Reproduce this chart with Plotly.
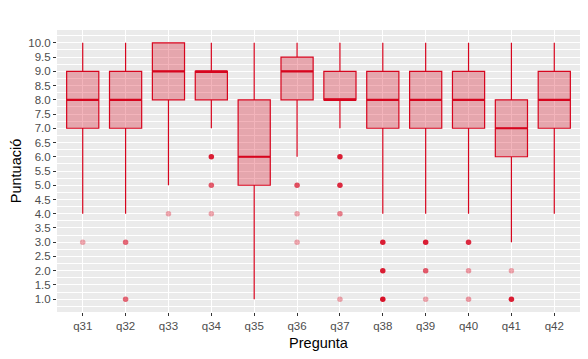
import plotly.graph_objects as go

preguntes = ["q31", "q32", "q33", "q34", "q35", "q36", "q37", "q38", "q39", "q40", "q41", "q42"]
minims = [4, 4, 5, 7, 1, 6, 7, 4, 4, 4, 3, 4]
q1s = [7, 7, 8, 8, 5, 8, 8, 7, 7, 7, 6, 7]
medianes = [8, 8, 9, 9, 6, 9, 8, 8, 8, 8, 7, 8]
q3s = [9, 9, 10, 9, 8, 9.5, 9, 9, 9, 9, 8, 9]
maxims = [10, 10, 10, 10, 10, 10, 10, 10, 10, 10, 10, 10]

# outliers: (question, value, opacity from overplotting)
outlier_preg = ["q31", "q32", "q32", "q33", "q34", "q34", "q34", "q36", "q36", "q36",
                "q37", "q37", "q37", "q37", "q38", "q38", "q38", "q39", "q39", "q39",
                "q40", "q40", "q40", "q41", "q41"]
outlier_val = [3, 3, 1, 4, 6, 5, 4, 5, 4, 3,
               6, 5, 4, 1, 3, 2, 1, 3, 2, 1,
               3, 2, 1, 2, 1]
outlier_alpha = [0.35, 0.6, 0.6, 0.35, 0.9, 0.65, 0.35, 0.7, 0.35, 0.35,
                 0.9, 0.85, 0.5, 0.35, 0.9, 0.9, 0.95, 0.9, 0.65, 0.35,
                 0.85, 0.4, 0.4, 0.35, 0.9]

RED = "rgb(215,5,30)"
FILL = "rgba(215,5,30,0.3)"
BOXW = 0.75

xs = list(range(len(preguntes)))
idx = {p: i for i, p in enumerate(preguntes)}

fig = go.Figure()
fig.add_trace(go.Box(
    x=xs, q1=q1s, median=medianes, q3=q3s,
    lowerfence=minims, upperfence=maxims,
    boxpoints=False, width=BOXW, whiskerwidth=0,
    fillcolor=FILL, line=dict(color=RED, width=1.2),
    showlegend=False, hoverinfo="skip",
))

# thicker median lines
mx, my = [], []
for i, m in zip(xs, medianes):
    mx += [i - BOXW / 2, i + BOXW / 2, None]
    my += [m, m, None]
fig.add_trace(go.Scatter(x=mx, y=my, mode="lines",
                         line=dict(color=RED, width=2.2),
                         showlegend=False, hoverinfo="skip"))

fig.add_trace(go.Scatter(
    x=[idx[p] for p in outlier_preg], y=outlier_val, mode="markers",
    marker=dict(color=RED, size=5.5, opacity=outlier_alpha, line=dict(width=0)),
    showlegend=False, hoverinfo="skip",
))

yt = [1 + 0.5 * k for k in range(19)]
fig.update_layout(
    width=580, height=351,
    margin=dict(l=49, r=8, t=22, b=47),
    paper_bgcolor="white", plot_bgcolor="#EBEBEB",
    font=dict(family="Liberation Sans, Arial, sans-serif"),
    xaxis=dict(
        range=[-0.6, len(preguntes) - 0.4],
        tickvals=xs, ticktext=preguntes,
        showgrid=True, gridcolor="white", gridwidth=1.3,
        zeroline=False, showline=False, automargin=False,
        ticks="outside", ticklen=3, tickcolor="#333333", tickwidth=1,
        tickfont=dict(size=11.5, color="#4D4D4D"),
        title=dict(text="Pregunta", font=dict(size=14.5, color="black"), standoff=7),
    ),
    yaxis=dict(
        range=[0.55, 10.45],
        tickvals=yt, ticktext=[f"{v:.1f}" for v in yt],
        showgrid=True, gridcolor="white", gridwidth=1.3,
        zeroline=False, showline=False, automargin=False,
        ticks="outside", ticklen=3, tickcolor="#333333", tickwidth=1,
        tickfont=dict(size=11.5, color="#4D4D4D"),
        minor=dict(tickvals=[0.75 + 0.5 * k for k in range(20)], showgrid=True,
                   gridcolor="white", gridwidth=0.6, ticks=""),
        title=dict(text="Puntuació", font=dict(size=14.5, color="black"), standoff=5),
    ),
)

fig.write_html("out.html")
